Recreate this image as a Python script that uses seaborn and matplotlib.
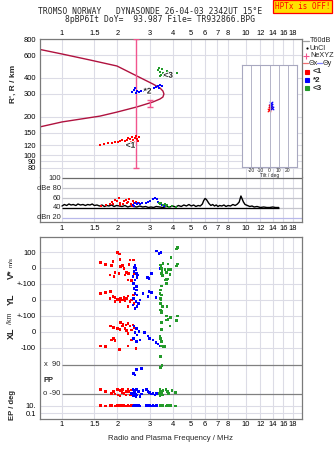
import matplotlib
matplotlib.use("Agg")
import matplotlib.pyplot as plt
import matplotlib.patheffects as pe
from matplotlib.lines import Line2D
from matplotlib.ticker import NullLocator
from matplotlib.transforms import blended_transform_factory
import numpy as np
import pandas as pd
import seaborn as sns

# ---------------- data ----------------
title_line1 = "TROMSO NORWAY   DYNASONDE 26-04-03 2342UT 15°E"
title_line2 = "8pBP6It DoY=  93.987 File= TR932866.BPG"
status_text = "HPTx is OFF!"

freq_ticks = [1, 1.5, 2, 3, 4, 5, 6, 7, 8, 10, 12, 14, 16, 18]
freq_labels = ["1", "1.5", "2", "3", "4", "5", "6", "7", "8", "10", "12", "14", "16", "18"]
height_ticks = [800, 600, 400, 300, 200, 150, 120, 100, 90, 80]
db_levels = [100, 80, 60, 40, 20]
db_labels = ["100", "dBe 80", "60", "40", "dBn 20"]
tilt_ticks = [-20, -10, 0, 10, 20]

# model profile (frequency MHz, height km)
profile_freq = [0.750, 1.000, 1.419, 1.990, 2.556, 3.123, 3.409, 3.539, 3.584,
                3.539, 3.409, 3.123, 2.556, 1.990, 1.609, 1.000, 0.750]
profile_height = [666, 612, 550, 494, 413, 358, 334, 316, 300,
                  284, 274, 260, 238, 217, 202, 182, 166]

# ionogram echoes
echo1_freq = [1.61, 1.69, 1.78, 1.87, 1.94, 2.02, 2.07, 2.12, 2.20, 2.25, 2.28,
              2.34, 2.40, 2.43, 2.49, 2.52, 2.56, 2.59, 2.62, 2.46, 2.37]
echo1_height = [120, 122, 125, 125, 127, 127, 129, 132, 129, 132, 137,
                134, 139, 132, 137, 142, 134, 129, 139, 127, 127]
echo2_freq = [2.40, 2.46, 2.49, 2.56, 2.62, 2.69, 2.79, 2.93, 3.04, 3.16, 3.24,
              3.33, 3.41, 3.49, 3.37, 2.52]
echo2_height = [310, 322, 334, 316, 310, 316, 316, 322, 328, 334, 340,
                346, 352, 346, 334, 305]
echo3_freq = [3.33, 3.37, 3.41, 3.45, 3.49, 3.54, 3.58, 3.67, 3.72, 3.81, 3.91, 4.22, 3.41]
echo3_height = [460, 477, 444, 421, 469, 436, 413, 428, 452, 444, 436, 436, 413]

# NeXYZ markers
ne_freq = [2.53, 3.01]
ne_center = [253, 253]
ne_low = [80, 238]
ne_high = [800, 269]

# tilt inset
tilt1_x = [0.0, 1.0, -0.5]
tilt1_y = [9, 11, 7]
tilt2_x = [2.0, 2.5, 1.5]
tilt2_y = [12, 9, 14]

# amplitude panel
noise_freq = [1.00, 1.03, 1.06, 1.09, 1.12, 1.15, 1.19, 1.22, 1.26, 1.30, 1.34, 1.38, 1.42,
              1.46, 1.50, 1.55, 1.60, 1.65, 1.70, 1.75, 1.80, 1.86, 1.92, 1.98, 2.05, 2.12,
              2.20, 2.28, 2.36, 2.45, 2.55, 2.65, 2.75, 2.85, 2.95, 3.05, 3.15, 3.25, 3.40,
              3.55, 3.70, 3.85, 4.00, 4.15, 4.30, 4.45, 4.60, 4.75, 4.90, 5.05, 5.20, 5.35,
              5.50, 5.65, 5.80, 5.90, 6.00, 6.10, 6.20, 6.30, 6.45, 6.60, 6.75, 6.90, 7.05,
              7.20, 7.40, 7.60, 7.80, 8.00, 8.25, 8.50, 8.75, 9.00, 9.20, 9.40, 9.55, 9.70,
              9.90, 10.2, 10.5, 10.8, 11.1, 11.5, 12.0, 12.5, 13.0, 13.5, 14.0, 14.5, 15.1]
noise_db = [44, 47, 45, 48, 46, 47, 45, 48, 46, 47, 45, 47, 46,
            48, 45, 46, 44, 46, 43, 45, 44, 46, 43, 45, 44, 43,
            45, 42, 44, 43, 42, 44, 42, 43, 41, 42, 41, 43, 42,
            41, 43, 42, 44, 42, 45, 43, 46, 44, 47, 44, 46, 43,
            45, 44, 48, 55, 59, 57, 53, 49, 45, 47, 44, 46, 43,
            45, 44, 46, 43, 45, 44, 47, 45, 48, 52, 64, 58, 52,
            47, 45, 43, 44, 42, 43, 41, 42, 41, 41, 42, 41, 41]
noise_floor = 40.7
amp1 = [(1.62, 44), (1.73, 46), (1.82, 48), (1.86, 52.7), (1.90, 49), (1.94, 56), (2.00, 54.7),
        (2.05, 59.3), (2.08, 50.7), (2.14, 48), (2.17, 54.7), (2.23, 56), (2.25, 49.3),
        (2.29, 52.7), (2.31, 57.3), (2.36, 48), (2.43, 54.7), (2.46, 50.7), (2.52, 52.7),
        (2.56, 48), (2.62, 50.7), (2.07, 46), (2.39, 44)]
amp2 = [(2.43, 46), (2.49, 49.3), (2.55, 48), (2.60, 50.7), (2.65, 48), (2.71, 49.3),
        (2.88, 50.7), (2.94, 52.7), (3.00, 54.7), (3.13, 57.3), (3.21, 59.3), (3.27, 57.3),
        (3.33, 52.7), (3.41, 50.7), (3.51, 46), (3.57, 44), (2.46, 44)]
amp3 = [(3.37, 50.7), (3.43, 48), (3.47, 49.3), (3.55, 46), (3.61, 48), (3.68, 44),
        (3.74, 46), (3.84, 42.7), (3.97, 44), (4.18, 42.7)]

# lower panel: velocities V* (m/s), YL, XL (km), PP (deg), EP (deg)
vstar1 = [(1.62, 34), (1.73, 24), (1.89, 40), (1.86, 15), (2.00, 100), (2.05, 89), (2.07, 55),
          (1.94, -27), (1.82, -45), (1.92, -55), (2.08, 8), (2.17, -2), (2.14, 15), (2.25, -28),
          (2.30, -34), (2.20, -45), (2.34, 51), (2.31, 24), (2.44, 51), (2.46, -34),
          (2.29, -76), (2.39, -81), (2.04, -34)]
vstar2 = [(2.49, 19), (2.52, -2), (2.46, -23), (2.55, -34), (2.43, -55), (2.49, -76),
          (2.56, -59), (2.44, -97), (2.91, -59), (2.97, -66), (3.07, -34), (3.27, 108),
          (3.37, 94), (3.41, -2), (2.52, -12), (2.47, 5), (2.58, -45), (3.45, 100)]
vstar3 = [(4.24, 132), (4.20, 121), (3.91, 66), (3.78, 25), (4.24, 25), (4.20, 13), (3.43, 19),
          (3.47, -2), (3.63, -8), (3.78, -8), (3.89, -8), (3.70, -30), (3.47, -34), (3.86, -40),
          (3.51, -49), (3.70, -72), (3.78, -70), (3.63, -76), (3.70, -97), (3.45, 10),
          (3.50, -20), (3.55, 30)]
yl1 = [(1.62, 43), (1.73, 47), (1.84, 53), (1.89, 21), (1.82, 11), (1.94, 17), (2.00, 4),
       (2.08, 11), (2.14, 0), (2.17, 17), (2.25, 11), (2.29, 25), (2.34, -11), (2.39, 0),
       (2.44, 32), (2.46, -21), (2.29, -43), (2.20, -4), (2.07, -11), (1.94, -11)]
yl2 = [(2.46, 75), (2.55, 64), (2.49, 43), (2.56, 32), (2.44, 11), (2.52, -11), (2.60, -21),
       (2.43, -32), (2.49, -53), (2.56, -43), (2.65, 0), (2.98, 53), (3.07, 47), (2.94, 21),
       (3.24, 17), (2.76, 43), (2.55, 85)]
yl3 = [(3.47, 89), (3.43, 64), (3.47, 32), (3.43, 11), (3.43, -21), (3.73, -43), (3.43, -64),
       (3.47, -81), (3.41, 43), (3.51, -43), (3.47, -74), (3.45, 5)]
xl1 = [(2.08, 59), (2.15, 51), (2.14, 38), (2.23, 45), (2.29, 55), (2.34, 38), (2.43, 45),
       (1.84, 38), (1.90, 30), (2.00, 24), (2.07, 17), (2.20, 24), (2.25, 8), (2.39, 13),
       (2.46, 30), (2.29, -8), (1.90, -40), (1.94, -55), (1.86, -51), (1.62, -89), (1.73, -94),
       (2.05, -110), (2.29, -89), (2.52, -104), (2.39, -51)]
xl2 = [(2.46, 38), (2.55, 24), (2.49, -4), (2.56, -19), (2.62, 2), (2.44, -40), (2.55, -62),
       (2.65, -51), (2.94, -25), (3.00, -40), (3.13, -51), (3.24, -68), (3.33, -76),
       (3.41, -89), (2.82, -4)]
xl3 = [(3.70, 102), (4.24, 102), (3.89, 91), (3.78, 81), (3.70, 76), (4.20, 72), (3.47, 59),
       (3.86, 38), (3.47, 17), (3.43, -40), (3.47, -57), (3.63, -94), (3.47, -89),
       (3.43, -157), (3.41, -30), (3.47, -62), (3.55, -94)]
pp1 = [(1.62, -64), (1.73, -78), (1.86, -89), (1.90, -78), (1.94, -93), (2.00, -64),
       (2.02, -100), (2.08, -72), (2.14, -64), (2.17, -89), (2.23, -100), (2.29, -64),
       (2.31, -78), (2.36, -100), (2.39, -68), (2.43, -89), (2.46, -106), (2.07, -106),
       (2.25, -78), (2.12, -85)]
pp2 = [(2.43, -64), (2.46, -72), (2.49, -85), (2.52, -93), (2.55, -64), (2.56, -100),
       (2.44, -106), (2.60, -78), (2.46, -89), (2.52, -110), (2.39, -89), (2.88, -64),
       (2.94, -78), (3.00, -85), (3.07, -93), (3.13, -89), (3.21, -100), (3.27, -89),
       (2.76, -72), (2.71, -93), (2.65, -110), (2.44, 37), (2.49, 27), (2.55, 63), (2.71, 69)]
pp3 = [(3.41, -64), (3.43, -78), (3.47, -89), (3.51, -100), (3.41, -106), (3.55, -72),
       (3.68, -64), (3.74, -78), (3.80, -89), (3.37, -89), (4.14, -85), (3.97, -72),
       (3.43, 75), (3.50, 86)]
ep1 = [(1.62, 12), (1.73, 11), (1.82, 13), (1.86, 12), (1.94, 11), (2.00, 13), (2.05, 12),
       (2.08, 11), (2.14, 12), (2.17, 13), (2.23, 11), (2.29, 12), (2.34, 11), (2.39, 12),
       (2.44, 11), (2.49, 12), (2.56, 11)]
ep2 = [(2.43, 11), (2.46, 12), (2.49, 11), (2.52, 12), (2.55, 11), (2.60, 12), (2.65, 11),
       (2.88, 12), (2.94, 11), (3.00, 12), (3.07, 11), (3.13, 12), (3.21, 11), (3.27, 12)]
ep3 = [(3.41, 12), (3.47, 13), (3.51, 11), (3.55, 12), (3.68, 11), (3.74, 12), (3.80, 11),
       (3.90, 12), (4.14, 11)]

# ---------------- style / layout ----------------
sns.set_style("white")
plt.rcParams["font.family"] = ["Liberation Sans", "DejaVu Sans"]

RED, BLUE, GREEN = "#ff0000", "#0000ff", "#239a2a"
CRIMSON, PINK = "#b0123f", "#f2558e"
GRID, SPINE = "#dcdce6", "#7a7a7a"
FS = 5.4
FMIN, FMAX = 0.759, 20.2
W, H = 335, 451

fig = plt.figure(figsize=(W / 100, H / 100), dpi=100)


def box(x0, y0, x1, y1):
    return [x0 / W, 1 - y1 / H, (x1 - x0) / W, (y1 - y0) / H]


def fxy(x, y):
    return x / W, 1 - y / H


ax_top = fig.add_axes(box(40, 39, 302, 177))
ax_db = fig.add_axes(box(40, 177, 302, 222))
ax_low = fig.add_axes(box(40, 237, 302, 418.5))
ax_tilt = fig.add_axes(box(242, 65, 297, 167))

for ax in (ax_top, ax_db, ax_low):
    ax.set_xscale("log")
    ax.set_xlim(FMIN, FMAX)
    ax.set_xticks(freq_ticks)
    ax.set_xticklabels(freq_labels)
    ax.xaxis.set_minor_locator(NullLocator())
    ax.tick_params(axis="both", length=0, labelsize=FS, colors="black")
    ax.grid(True, axis="x", color=GRID, lw=0.8)
    ax.set_axisbelow(True)
    for s in ax.spines.values():
        s.set_color(SPINE)
        s.set_linewidth(0.9)

# ---- ionogram ----
ax = ax_top
ax.set_yscale("log")
ax.set_ylim(68.1, 800)
ax.set_yticks(height_ticks)
ax.set_yticklabels([str(h) for h in height_ticks])
ax.yaxis.set_minor_locator(NullLocator())
ax.grid(True, axis="y", color=GRID, lw=0.8)
ax.xaxis.tick_top()
ax.tick_params(axis="x", pad=1.2)
ax.tick_params(axis="y", pad=3)
ax.spines["bottom"].set_visible(False)

sns.lineplot(x=profile_freq, y=profile_height, sort=False, estimator=None,
             color=CRIMSON, lw=1.0, ax=ax)
ax.errorbar(ne_freq, ne_center,
            yerr=[np.array(ne_center) - np.array(ne_low), np.array(ne_high) - np.array(ne_center)],
            fmt="none", ecolor=PINK, elinewidth=1.0, capsize=2, capthick=1.0, zorder=3)
for fr, hh, col in ((echo1_freq, echo1_height, RED), (echo2_freq, echo2_height, BLUE),
                    (echo3_freq, echo3_height, GREEN)):
    sns.scatterplot(x=fr, y=hh, color=col, marker="s", s=3.5, linewidth=0, ax=ax, zorder=4)
stroke = [pe.withStroke(linewidth=1.6, foreground="white")]
for lab, fr, hh in (("<1", 2.36, 118), ("*2", 2.92, 310), ("<3", 3.78, 412)):
    ax.text(fr, hh, lab, fontsize=6, fontweight="bold", ha="center", va="center",
            path_effects=stroke, zorder=5)

# ---- tilt inset ----
ax = ax_tilt
ax.set_facecolor("white")
ax.set_xlim(-30, 30)
ax.set_ylim(-55, 55)
ax.set_yticks([])
ax.set_xticks(tilt_ticks)
ax.set_xticklabels([str(t) for t in tilt_ticks])
ax.tick_params(axis="x", length=0, labelsize=3.6, pad=0.5)
for t in tilt_ticks:
    ax.axvline(t, color="#b4b4c8", lw=0.7)
for s in ax.spines.values():
    s.set_color("#a8a8c0")
    s.set_linewidth(0.8)
sns.scatterplot(x=tilt1_x, y=tilt1_y, color=RED, marker="x", s=6, linewidth=0.8, ax=ax)
sns.scatterplot(x=tilt2_x, y=tilt2_y, color=BLUE, marker="x", s=6, linewidth=0.8, ax=ax)
ax.set_xlabel("Tilt / deg", fontsize=3.6, labelpad=0)

# ---- amplitude panel ----
ax = ax_db
ax.set_ylim(12, 102)
ax.set_yticks([])
ax.spines["top"].set_visible(False)
ax.tick_params(axis="x", pad=2.5)
ax.hlines([100], 1, FMAX, color="#6a6a6a", lw=0.9)
ax.hlines([80, 60, 40], 1, FMAX, color="#c4c4cc", lw=0.9)
ax.hlines([20], 1, FMAX, color="#b8b8ea", lw=0.9)
for lev, lab in zip(db_levels, db_labels):
    ax.text(0.985, lev, lab, ha="right", va="center", fontsize=FS)
ax.hlines([noise_floor], noise_freq[0], noise_freq[-1], color="black", lw=0.9)
sns.lineplot(x=noise_freq, y=noise_db, color="black", lw=1.0, estimator=None, ax=ax)
for pts, col in ((amp1, RED), (amp2, BLUE), (amp3, GREEN)):
    sns.scatterplot(x=[p[0] for p in pts], y=[p[1] for p in pts], color=col, marker="s",
                    s=4, linewidth=0, ax=ax, zorder=4)

# ---- lower panel ----
ax = ax_low
ax.set_ylim(-86.5, 95)
band_layout = {"vstar": (64.0, 0.157), "yl": (32.0, 0.157), "xl": (0.0, 0.157),
               "pp": (-47.25, 0.1583)}
rows = []
for band, mode, pts in (("vstar", "1", vstar1), ("yl", "1", yl1), ("xl", "1", xl1),
                        ("pp", "1", pp1),
                        ("vstar", "2", vstar2), ("yl", "2", yl2), ("xl", "2", xl2),
                        ("pp", "2", pp2),
                        ("vstar", "3", vstar3), ("yl", "3", yl3), ("xl", "3", xl3),
                        ("pp", "3", pp3)):
    off, sc = band_layout[band]
    for f, v in pts:
        rows.append((f, off + sc * v, mode))
for mode, pts in (("1", ep1), ("2", ep2), ("3", ep3)):
    for f, v in pts:
        rows.append((f, -74 + 3.65 * (np.log10(v) - 1), mode))
low_df = pd.DataFrame(rows, columns=["freq", "ypos", "mode"])
sns.scatterplot(data=low_df, x="freq", y="ypos", hue="mode",
                palette={"1": RED, "2": BLUE, "3": GREEN}, marker="s", s=3.5,
                linewidth=0, legend=False, ax=ax, zorder=4)
ax.set_xlabel("")
ax.set_ylabel("")
ax.tick_params(axis="x", pad=1.5)
ax.tick_params(axis="y", pad=3)
light_levels = [79.7, 64, 48, 32, 16, 0, -15.7]
ax.hlines(light_levels, FMIN, FMAX, color=GRID, lw=0.8, zorder=1)
ax.hlines([-74, -81.3], FMIN, FMAX, color=GRID, lw=0.8, zorder=1)
ax.hlines([-33, -61.5], 1, FMAX, color="#808080", lw=0.9, zorder=1)
ax.set_yticks(light_levels + [-74, -81.3])
ax.set_yticklabels(["100", "0", "+-100", "0", "+-100", "0", "-100", "10.", "0.1"])
tr = blended_transform_factory(ax.transAxes, ax.transData)
ax.text(0.078, -33, "x  90", transform=tr, ha="right", va="center", fontsize=FS)
ax.text(0.078, -61.5, "o -90", transform=tr, ha="right", va="center", fontsize=FS)
ax.text(0.012, -48, "PP", transform=tr, ha="left", va="center", fontsize=FS,
        fontweight="bold")

# ---- side labels ----
def ftext(x, y, s, **kw):
    xx, yy = fxy(x, y)
    fig.text(xx, yy, s, **kw)


ftext(13, 84, "R', R / km", rotation=90, ha="center", va="center", fontsize=6,
      fontweight="bold")
ftext(11, 274, "V*", rotation=90, ha="center", va="center", fontsize=6.5, fontweight="bold")
ftext(11, 262, "m/s", rotation=90, ha="center", va="center", fontsize=4.5)
ftext(11, 299, "YL", rotation=90, ha="center", va="center", fontsize=6.5, fontweight="bold")
ftext(11, 318, "/km", rotation=90, ha="center", va="center", fontsize=5)
ftext(11, 333, "XL", rotation=90, ha="center", va="center", fontsize=6.5, fontweight="bold")
ftext(13, 405, "EP / deg", rotation=90, ha="center", va="center", fontsize=5.5,
      fontweight="bold")
ftext(170, 439, "Radio and Plasma Frequency / MHz", ha="center", va="center", fontsize=5.6)

# ---- titles ----
ftext(150, 12, title_line1, ha="center", va="center", fontsize=5.8,
      family="DejaVu Sans Mono")
ftext(160, 20, title_line2, ha="center", va="center", fontsize=5.8,
      family="DejaVu Sans Mono")
ftext(302.5, 6.5, status_text, ha="center", va="center", fontsize=5.5, color="red",
      family="DejaVu Sans Mono",
      bbox=dict(boxstyle="square,pad=0.22", fc="#ffe000", ec="red", lw=0.9))

# ---- legend (drawn manually at the right margin) ----
def fline(x0, x1, y, color, lw=0.9):
    a, b = fxy(x0, y)
    c, _ = fxy(x1, y)
    fig.add_artist(Line2D([a, c], [b, b], color=color, lw=lw))


def fmark(x, y, marker, color, ms):
    a, b = fxy(x, y)
    fig.add_artist(Line2D([a], [b], marker=marker, color=color, ms=ms, mew=0.8, lw=0))


LFS = 5.2
fline(303, 309, 41, "#a0a0a0")
ftext(310, 41, "T60dB", ha="left", va="center", fontsize=LFS)
fmark(306.5, 48, ".", "black", 1.5)
ftext(310, 48, "UnCl", ha="left", va="center", fontsize=LFS)
fmark(305.5, 55.7, "+", PINK, 4)
ftext(310, 55.7, "NeXYZ", ha="left", va="center", fontsize=LFS)
fline(303, 308, 63.3, "#f07070")
ftext(308.5, 63.3, "Θx", ha="left", va="center", fontsize=LFS)
fline(316.5, 322, 63.3, "#8080ff")
ftext(322.5, 63.3, "Θy", ha="left", va="center", fontsize=LFS)
for yy, col, lab in ((71.7, RED, "<1"), (80, BLUE, "*2"), (88.3, GREEN, "<3")):
    fmark(306.7, yy, "s", col, 2.2)
    ftext(313, yy, lab, ha="left", va="center", fontsize=5.8, fontweight="bold")

fig.savefig("out.png", dpi=100)
